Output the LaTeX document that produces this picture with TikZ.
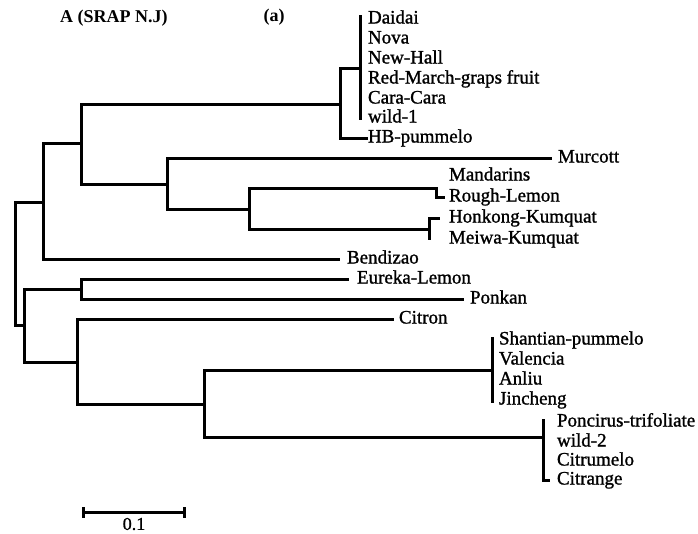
\documentclass[tikz,border=0pt]{standalone}
\usepackage{fontspec}
\setmainfont{Liberation Serif}
\newfontfamily\lblfont[FakeBold=1.2]{Liberation Serif}
\begin{document}
\begin{tikzpicture}[x=1pt,y=-1pt,
  br/.style={line width=3pt,line cap=rect,line join=miter},
  lbl/.style={anchor=west,inner xsep=0pt,inner ysep=0pt,outer sep=0pt,
     font=\lblfont\fontsize{19}{20}\selectfont,text height=13pt,text depth=4pt},
  leaf/.style={lbl,outer xsep=#1},
  leaf/.default=8pt,
  ttl/.style={inner sep=0pt,font=\fontsize{18}{20}\selectfont\bfseries}]
\useasboundingbox (0,0) rectangle (698,533);
% title
\node[ttl,anchor=west] (title) at (60,18) {A (SRAP N.J)};
\node[ttl] (panel) at (274,17) {(a)};
% internal nodes
\coordinate (root) at (15.5,263.5);
\coordinate (nA) at (43,202);
\coordinate (nB) at (81,143);
\coordinate (nC) at (340,104);
\coordinate (nD) at (167,184);
\coordinate (nE) at (249,209);
\coordinate (nF) at (24,325);
\coordinate (nG) at (81,289);
\coordinate (nH) at (77,362);
\coordinate (nI) at (204,404);
% collapsed groups
\coordinate (cBar) at (360,68);
\coordinate (cTop) at (360,16);
\coordinate (cBot) at (360,118);
\coordinate (nMR) at (436,188);
\coordinate (nHK) at (429,229);
\coordinate (hkBot) at (429,238);
\coordinate (sBar) at (492,370);
\coordinate (sTop) at (492,338);
\coordinate (sBot) at (492,401);
\coordinate (pJoin) at (543,437);
\coordinate (pTop) at (543,420);
% leaf labels
\node[lbl] (daidai) at (368,19) {Daidai};
\node[lbl] (nova) at (368,39) {Nova};
\node[lbl] (newhall) at (368,59) {New-Hall};
\node[lbl] (redmarch) at (368,79) {Red-March-graps fruit};
\node[lbl] (cara) at (368,99) {Cara-Cara};
\node[lbl] (wild1) at (368,118) {wild-1};
\node[leaf=2pt] (hb) at (366,138) {HB-pummelo};
\node[leaf] (mur) at (550,158) {Murcott};
\node[lbl] (mand) at (449,176) {Mandarins};
\node[leaf=6pt] (rough) at (443,197) {Rough-Lemon};
\node[leaf=11pt] (hong) at (438,218) {Honkong-Kumquat};
\node[lbl] (meiwa) at (449,239) {Meiwa-Kumquat};
\node[leaf=9pt] (bend) at (338,259) {Bendizao};
\node[leaf=10pt] (eur) at (347,279) {Eureka-Lemon};
\node[leaf] (ponk) at (462,299) {Ponkan};
\node[leaf=7pt] (citron) at (392,319) {Citron};
\node[lbl] (shan) at (499,340) {Shantian-pummelo};
\node[lbl] (val) at (499,360) {Valencia};
\node[lbl] (anliu) at (499,380) {Anliu};
\node[lbl] (jin) at (499,400) {Jincheng};
\node[lbl] (ponc) at (557,422) {Poncirus-trifoliate};
\node[lbl] (wild2) at (557,442) {wild-2};
\node[lbl] (citrum) at (557,461) {Citrumelo};
\node[leaf=9pt] (citrange) at (548,480) {Citrange};
% branches
\draw[br] (nA) -| (root) |- (nF);
\draw[br] (nB) -| (nA) |- (bend.west);
\draw[br] (nC) -| (nB) |- (nD);
\draw[br] (cBar) -| (nC) |- (hb.west);
\draw[br] (cTop) -- (cBot);
\draw[br] (mur.west) -| (nD) |- (nE);
\draw[br] (nMR) -| (nE) |- (nHK);
\draw[br] (nMR) |- (rough.west);
\draw[br] (hong.west) -| (nHK) -- (hkBot);
\draw[br] (nG) -| (nF) |- (nH);
\draw[br] (eur.west) -| (nG) |- (ponk.west);
\draw[br] (citron.west) -| (nH) |- (nI);
\draw[br] (sBar) -| (nI) |- (pJoin);
\draw[br] (sTop) -- (sBot);
\draw[br] (pTop) |- (citrange.west);
% scale bar
\coordinate (sbL) at (83,512);
\coordinate (sbR) at (184,512);
\draw[br] (sbL) -- (sbR);
\draw[br] ([yshift=-4pt]sbL) -- ([yshift=4pt]sbL);
\draw[br] ([yshift=-4pt]sbR) -- ([yshift=4pt]sbR);
\node[inner sep=0pt,font=\lblfont\fontsize{18}{19}\selectfont] (sblabel) at (134,524) {0.1};
\end{tikzpicture}
\end{document}
